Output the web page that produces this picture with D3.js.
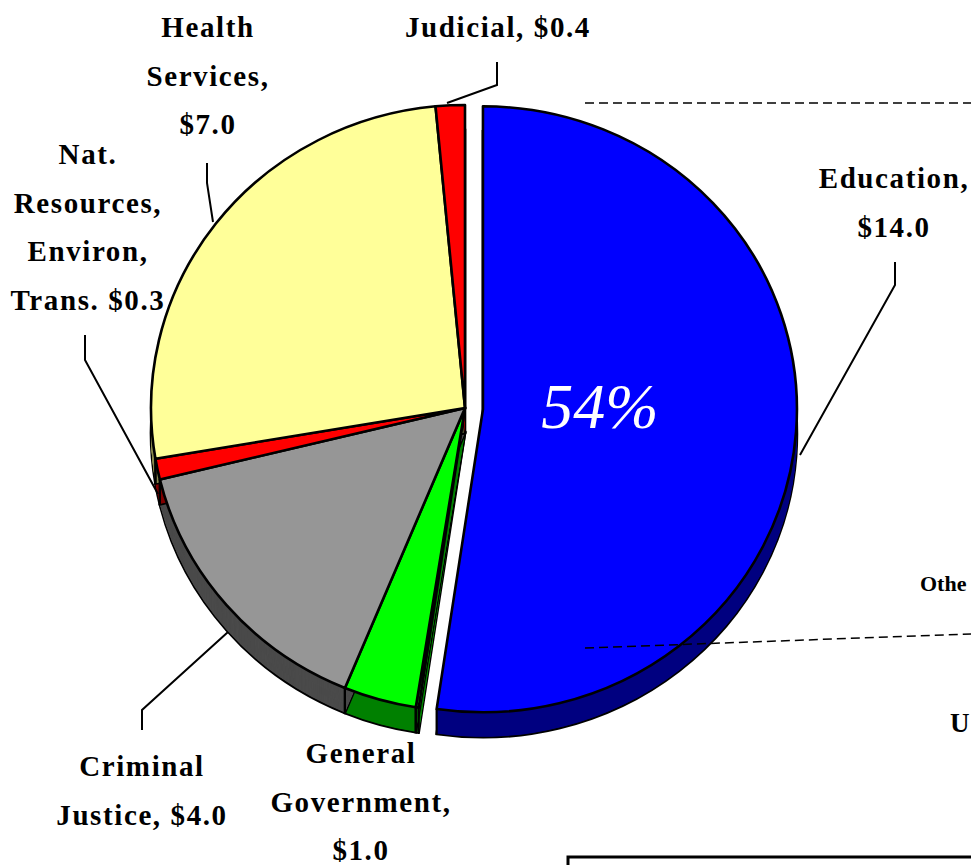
<!DOCTYPE html>
<html>
<head>
<meta charset="utf-8">
<script src="https://cdn.jsdelivr.net/npm/d3@7"></script>
<style>
  html, body { margin: 0; padding: 0; background: #fff; overflow: hidden; }
  svg { display: block; }
</style>
</head>
<body>
<svg id="chart" width="971" height="865"></svg>
<script>
// ---- data ----
const categories = ["Education", "(unlabeled sliver)", "General Government", "Criminal Justice",
                    "Nat. Resources, Environ, Trans.", "Health Services", "Judicial"];
const values = [14.0, 0.04, 1.0, 4.0, 0.3, 7.0, 0.4];
const labelLines = [
  ["Education,", "$14.0"],
  [],
  ["General", "Government,", "$1.0"],
  ["Criminal", "Justice, $4.0"],
  ["Nat.", "Resources,", "Environ,", "Trans. $0.3"],
  ["Health", "Services,", "$7.0"],
  ["Judicial, $0.4"]
];
const topColors  = ["#0000ff", "#00ff00", "#00ff00", "#969696", "#ff0000", "#ffff99", "#ff0000"];
const sideColors = ["#000080", "#008000", "#008000", "#4b4b4b", "#800000", "#8a8a50", "#800000"];
const explodedIndex = 0;
const bigPercentText = "54%";

// ---- layout ----
const W = 971, H = 865;
const cx = 465, cy = 408, rx = 314, ry = 303;
const k = ry / rx;
const depth = 25;          // px, screen
const explode = 18;
const labelFont = "'Liberation Serif', 'Times New Roman', serif";
const labelSize = 29, lineGap = 48.5, labelSpacing = 1.6;
const labelLayout = [
  { x: 894, y: 188 },
  null,
  { x: 361, y: 763 },
  { x: 142, y: 776 },
  { x: 88,  y: 164 },
  { x: 208, y: 37 },
  { x: 498, y: 37 }
];
const leaders = [
  [[895, 262], [895, 285], [800, 455]],
  null,
  null,
  [[142, 730], [142, 710], [228, 632]],
  [[85, 335], [85, 360], [158, 494]],
  [[207, 163], [207, 183], [213, 222]],
  [[497, 62], [497, 85], [447, 103]]
];

const svg = d3.select("#chart");

// ---- pie ----
const pie = d3.pie().sort(null).value(d => d)(values);
const arc = d3.arc().innerRadius(0).outerRadius(rx);

const g = svg.append("g").attr("transform", `translate(${cx},${cy}) scale(1,${k})`);
const D = depth / k;

function off(d, i) {
  if (i !== explodedIndex) return [0, 0];
  const a = (d.startAngle + d.endAngle) / 2;
  return [Math.sin(a) * explode, -Math.cos(a) * explode];
}

// extrusion (side walls)
const sides = g.append("g");
pie.forEach((d, i) => {
  const [ox, oy] = off(d, i);
  for (let s = D; s >= 0.5; s -= 0.5) {
    sides.append("path")
      .attr("d", arc(d))
      .attr("transform", `translate(${ox},${oy + s})`)
      .attr("fill", sideColors[i])
      .attr("stroke", s === D ? "#000" : "none")
      .attr("stroke-width", 2.6);
  }
});
// vertical seams on the rim
pie.forEach((d, i) => {
  const [ox, oy] = off(d, i);
  [d.startAngle, d.endAngle].forEach(a => {
    const deg = a * 180 / Math.PI;
    if (deg > 90 && deg < 270) {
      const px = Math.sin(a) * rx + ox, py = -Math.cos(a) * rx + oy;
      g.append("line").attr("x1", px).attr("y1", py).attr("x2", px).attr("y2", py + D)
        .attr("stroke", "#000").attr("stroke-width", 2.2);
    }
  });
});
// top faces
g.selectAll("path.top").data(pie).join("path")
  .attr("class", "top")
  .attr("d", arc)
  .attr("transform", (d, i) => { const [ox, oy] = off(d, i); return `translate(${ox},${oy})`; })
  .attr("fill", (d, i) => topColors[i])
  .attr("stroke", "#000")
  .attr("stroke-width", 2.6)
  .attr("stroke-linejoin", "round");

// connector decorations to the (cut-off) companion chart
svg.append("line").attr("x1", 585).attr("y1", 103).attr("x2", 971).attr("y2", 103)
  .attr("stroke", "#000").attr("stroke-width", 1.5).attr("stroke-dasharray", "9,5");
svg.append("line").attr("x1", 585).attr("y1", 648).attr("x2", 971).attr("y2", 634)
  .attr("stroke", "#000").attr("stroke-width", 1.5).attr("stroke-dasharray", "9,5");
svg.append("text").attr("x", 920).attr("y", 591).text("Othe")
  .attr("font-family", labelFont).attr("font-weight", "bold").attr("font-size", 22);
svg.append("text").attr("x", 950).attr("y", 732).text("U")
  .attr("font-family", labelFont).attr("font-weight", "bold").attr("font-size", 27);
svg.append("rect").attr("x", 568).attr("y", 857).attr("width", 500).attr("height", 100)
  .attr("fill", "none").attr("stroke", "#000").attr("stroke-width", 3);

// big percentage on the exploded slice
svg.append("text").attr("x", 600).attr("y", 428).attr("text-anchor", "middle")
  .text(bigPercentText)
  .attr("font-family", labelFont).attr("font-style", "italic")
  .attr("font-size", 64).attr("fill", "#fff");

// leader lines
const line = d3.line();
leaders.forEach(pts => {
  if (!pts) return;
  svg.append("path").attr("d", line(pts)).attr("fill", "none")
    .attr("stroke", "#000").attr("stroke-width", 2);
});

// labels
labelLines.forEach((lines, i) => {
  const pos = labelLayout[i];
  if (!pos || !lines.length) return;
  const t = svg.append("text").attr("text-anchor", "middle")
    .attr("font-family", labelFont).attr("font-weight", "bold").attr("font-size", labelSize)
    .attr("letter-spacing", labelSpacing);
  lines.forEach((s, j) => {
    t.append("tspan").attr("x", pos.x).attr("y", pos.y + j * lineGap).text(s);
  });
});
</script>
</body>
</html>
